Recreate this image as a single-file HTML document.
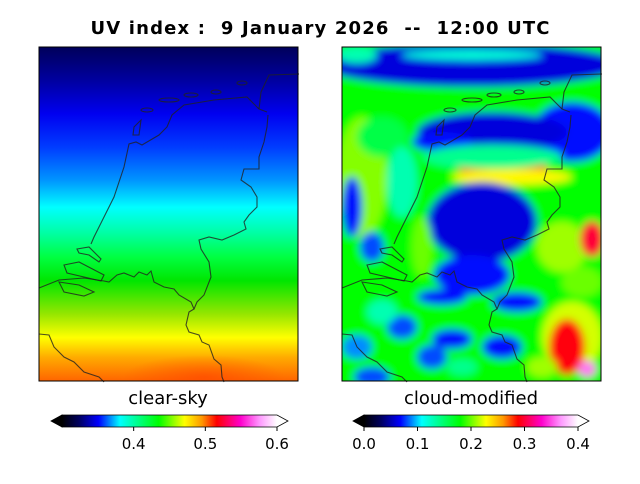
<!DOCTYPE html>
<html><head><meta charset="utf-8"><style>
body{margin:0;background:#fff;width:640px;height:480px;overflow:hidden;font-family:"DejaVu Sans","Liberation Sans",sans-serif}
text{font-family:"DejaVu Sans","Liberation Sans",sans-serif;white-space:pre}
</style></head><body>
<svg id="fig" width="640" height="480" viewBox="0 0 640 480" xmlns="http://www.w3.org/2000/svg">
<defs>
<linearGradient id="cmap" x1="0" x2="1" y1="0" y2="0">
<stop offset="0" stop-color="#000000"/><stop offset="0.08" stop-color="#000060"/><stop offset="0.17" stop-color="#0000ff"/>
<stop offset="0.27" stop-color="#00ffff"/><stop offset="0.45" stop-color="#00ff00"/><stop offset="0.57" stop-color="#ffff00"/>
<stop offset="0.65" stop-color="#ff9900"/><stop offset="0.72" stop-color="#ff0000"/><stop offset="0.83" stop-color="#ff00cc"/>
<stop offset="0.92" stop-color="#ff99ff"/><stop offset="1" stop-color="#ffffff"/>
</linearGradient>
<linearGradient id="clear" x1="0" x2="0" y1="0" y2="1">
<stop offset="0" stop-color="#00005a"/><stop offset="0.1" stop-color="#0000a0"/><stop offset="0.2" stop-color="#0000f0"/>
<stop offset="0.3" stop-color="#003cff"/><stop offset="0.4" stop-color="#0096ff"/><stop offset="0.48" stop-color="#00ffff"/>
<stop offset="0.56" stop-color="#00ffa0"/><stop offset="0.63" stop-color="#00ff40"/><stop offset="0.7" stop-color="#00e600"/>
<stop offset="0.8" stop-color="#96e600"/><stop offset="0.87" stop-color="#ffff00"/><stop offset="0.93" stop-color="#ffaa00"/>
<stop offset="1" stop-color="#ff6400"/>
</linearGradient>
<radialGradient id="redspot" cx="0.5" cy="0.5" r="0.5"><stop offset="0" stop-color="#ff4000" stop-opacity="0.6"/><stop offset="1" stop-color="#ff4000" stop-opacity="0"/></radialGradient>
<filter id="blur" x="-20%" y="-20%" width="140%" height="140%"><feGaussianBlur stdDeviation="4"/></filter>
<clipPath id="clipR"><rect x="0" y="0" width="259" height="334"/></clipPath>
<g id="coast" fill="none" stroke="#222" stroke-opacity="0.8" stroke-width="1.1">
<path d="M0,241 L20,233 L45,231 L65,234 L70,235 L78,228 L85,226 L95,230 L100,225 L108,228 L112,224 L115,235 L125,240 L135,242 L140,248 L152,255 L155,262 L150,265 L147,278 L150,285 L160,288 L163,295 L170,298 L175,312 L182,318 L183,330 L185,335"/>
<path d="M52,197 L55,190 L60,180 L75,150 L85,120 L90,97 L97,95 L103,98 L120,88 L128,80 L133,68 L145,58 L175,53 L208,50 L215,57 L220,62 L228,65"/>
<path d="M229,68 L228,80 L225,95 L220,110 L220,122 L205,122 L202,133 L212,140 L218,150 L218,160 L210,168 L205,175 L207,182 L195,188 L183,193 L170,190 L160,193 L162,202 L170,215 L172,230 L165,248 L158,255 L155,262"/>
<path d="M220,62 L222,45 L230,28 L260,27"/>
<path d="M0,287 L10,288 L15,300 L25,310 L35,315 L45,325 L60,330 L65,335"/>
<path d="M38,202 L50,200 L62,212 L60,215 L50,208 L40,206 Z"/>
<path d="M25,218 L40,215 L65,228 L62,234 L45,230 L28,226 Z"/>
<path d="M20,235 L40,238 L55,245 L45,249 L25,245 Z"/>
<path d="M95,80 L102,73 L100,88 L94,88 Z"/>
<ellipse cx="108" cy="63" rx="6" ry="2"/><ellipse cx="130" cy="53" rx="10" ry="2"/><ellipse cx="152" cy="48" rx="7" ry="2"/><ellipse cx="177" cy="45" rx="5" ry="2"/><ellipse cx="203" cy="36" rx="5" ry="2"/>
</g>
<clipPath id="clipL"><rect x="0" y="0" width="259" height="334"/></clipPath>
</defs>
<text x="320" y="34" text-anchor="middle" font-size="18" font-weight="bold" textLength="459" lengthAdjust="spacing">UV index :  9 January 2026  --  12:00 UTC</text>

<g transform="translate(39,47)">
<g clip-path="url(#clipL)">
<rect width="259" height="334" fill="url(#clear)"/>
<ellipse cx="165" cy="330" rx="80" ry="22" fill="url(#redspot)"/>
</g>
<use href="#coast"/>
<rect width="259" height="334" fill="none" stroke="#000" stroke-width="1"/>
</g>

<g transform="translate(342,47)">
<g clip-path="url(#clipR)"><g id="blobs" filter="url(#blur)"></g></g>
<use href="#coast"/>
<rect width="259" height="334" fill="none" stroke="#000" stroke-width="1"/>
</g>

<text x="168" y="404" text-anchor="middle" font-size="18">clear-sky</text>
<text x="471" y="404" text-anchor="middle" font-size="18">cloud-modified</text>
<g id="cb1"></g>
<g id="cb2"></g>
</svg>
<script>
const cb1Ticks=[0.4,0.5,0.6];
const cb1Range=[0.3,0.6];
const cb2Ticks=[0.0,0.1,0.2,0.3,0.4];
const cb2Range=[0.0,0.4];
// cloud-modified UV patches: centre x, centre y, radii, value
const blobX=[20,130,130,15,40,230,150,100,10,60,160,165,170,150,140,130,10,30,100,60,110,175,160,90,30,120,220,250,230,225,245,200,15,240,80,40];
const blobY=[130,18,8,8,90,85,85,95,160,135,120,117,130,110,175,228,160,200,250,280,292,255,300,310,330,320,200,192,290,300,322,320,300,235,200,265];
const blobRX=[25,150,70,20,25,40,75,30,10,15,45,15,60,70,55,38,10,12,25,15,20,25,20,15,18,15,25,12,30,18,9,15,15,20,10,15];
const blobRY=[60,22,5,8,20,30,20,10,30,35,9,5,8,12,40,20,30,15,8,12,10,10,12,12,10,8,25,18,35,28,8,10,12,15,30,12];
const blobV=[0.205,0.06,0.12,0.13,0.16,0.07,0.06,0.07,0.07,0.13,0.28,0.32,0.23,0.14,0.06,0.07,0.07,0.08,0.07,0.08,0.07,0.07,0.07,0.08,0.08,0.14,0.21,0.3,0.22,0.29,0.36,0.21,0.09,0.2,0.2,0.13];
const NS="http://www.w3.org/2000/svg";
const stops=[[0,[0,0,0]],[0.08,[0,0,96]],[0.17,[0,0,255]],[0.27,[0,255,255]],[0.45,[0,255,0]],[0.57,[255,255,0]],[0.65,[255,153,0]],[0.72,[255,0,0]],[0.83,[255,0,204]],[0.92,[255,153,255]],[1,[255,255,255]]];
function cmap(t){t=Math.max(0,Math.min(1,t));for(let i=1;i<stops.length;i++){if(t<=stops[i][0]){const a=stops[i-1],b=stops[i];const f=(t-a[0])/(b[0]-a[0]);const c=a[1].map((v,k)=>Math.round(v+(b[1][k]-v)*f));return`rgb(${c})`;}}return"#fff";}
const blobs=document.getElementById('blobs');
const bg=document.createElementNS(NS,'rect');
bg.setAttribute('x',-20);bg.setAttribute('y',-20);bg.setAttribute('width',300);bg.setAttribute('height',380);bg.setAttribute('fill',cmap(0.18/0.4));


blobs.appendChild(bg);
for(let i=0;i<blobX.length;i++){
 const e=document.createElementNS(NS,'ellipse');
 e.setAttribute('cx',blobX[i]);e.setAttribute('cy',blobY[i]);e.setAttribute('rx',blobRX[i]);e.setAttribute('ry',blobRY[i]);
 e.setAttribute('fill',cmap(blobV[i]/0.4));
 
 
 blobs.appendChild(e);
}
function colorbar(id,x0,x1,ticks,range){
 const g=document.getElementById(id);const y=415,h=12;
 const sx=v=>x0+(v-range[0])/(range[1]-range[0])*(x1-x0);
 const l=document.createElementNS(NS,'path');
 l.setAttribute('d',`M${x0},${y} L${x0-11},${y+h/2} L${x0},${y+h} Z`);l.setAttribute('fill','#000');l.setAttribute('stroke','#000');l.setAttribute('stroke-width','0.8');
 
 
 g.appendChild(l);
 const r=document.createElementNS(NS,'rect');
 r.setAttribute('x',x0);r.setAttribute('y',y);r.setAttribute('width',x1-x0);r.setAttribute('height',h);r.setAttribute('fill','url(#cmap)');
 
 
 g.appendChild(r);
 const e=document.createElementNS(NS,'path');
 e.setAttribute('d',`M${x0},${y} L${x1},${y} L${x1+11},${y+h/2} L${x1},${y+h} L${x0},${y+h} Z`);e.setAttribute('fill','none');e.setAttribute('stroke','#000');e.setAttribute('stroke-width','0.8');
 
 
 g.appendChild(e);
 ticks.forEach(v=>{
  const t=document.createElementNS(NS,'line');
  t.setAttribute('x1',sx(v));t.setAttribute('x2',sx(v));t.setAttribute('y1',y+h);t.setAttribute('y2',y+h+4);t.setAttribute('stroke','#000');
  
  
  g.appendChild(t);
  const tx=document.createElementNS(NS,'text');
  tx.setAttribute('x',sx(v));tx.setAttribute('y',y+h+22);tx.setAttribute('text-anchor','middle');tx.setAttribute('font-size','15');
  tx.textContent=v.toFixed(1);
  
  
  g.appendChild(tx);
 });
}
colorbar('cb1',62,277,cb1Ticks,cb1Range);
colorbar('cb2',364,578,cb2Ticks,cb2Range);
</script>
</body></html>
